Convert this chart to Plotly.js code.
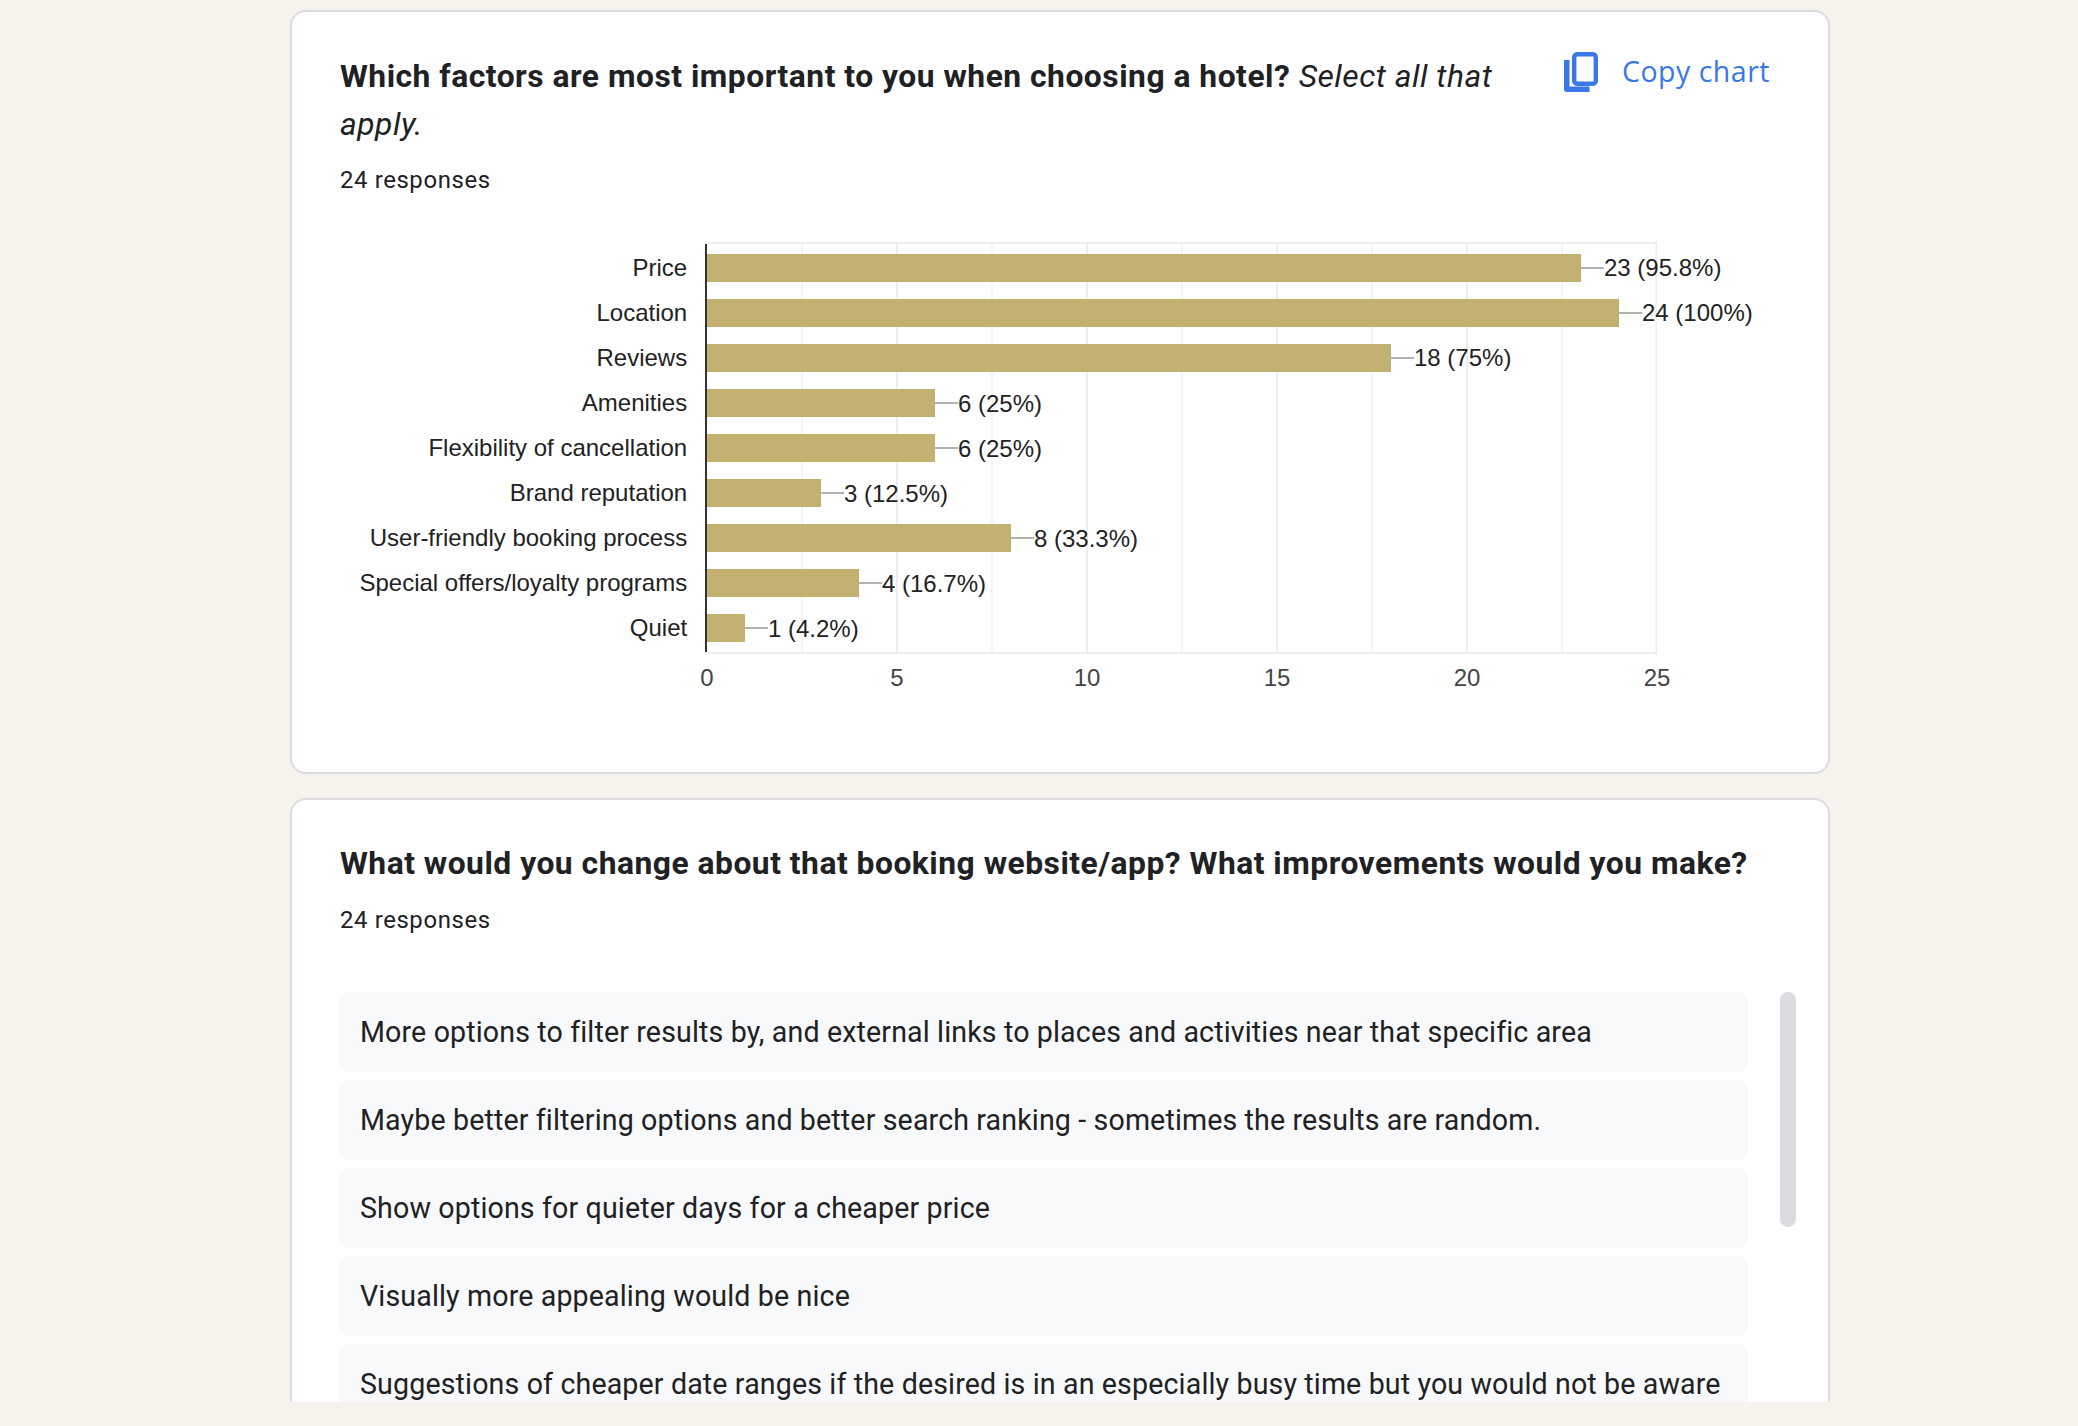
<!DOCTYPE html>
<html><head><meta charset="utf-8">
<script src="https://cdn.plot.ly/plotly-3.0.1.min.js"></script>
<style>
html,body{margin:0;padding:0;background:#f5f3ec;width:2078px;height:1426px;overflow:hidden;font-family:Roboto,sans-serif;color:#202124}
.card{position:absolute;left:290px;width:1536px;background:#fff;border:2px solid #dadce0;border-radius:16px;box-sizing:content-box}
.t{position:absolute;white-space:nowrap;line-height:48px;height:48px}
.q{font-size:31.8px;font-weight:700;left:340px;letter-spacing:.5px}
.r{font-size:23.9px;left:340px;letter-spacing:.62px}
.item{position:absolute;left:339px;width:1409px;height:80px;background:#f8f9fa;border-radius:10px}
.item span{position:absolute;left:21px;top:16px;font-size:28.6px;line-height:48px;white-space:nowrap;letter-spacing:.135px}
#clip{position:absolute;left:0;top:0;width:2078px;height:1402px;overflow:hidden}
#chart{position:absolute;left:291px;top:12px;width:1538px;height:760px}
</style></head><body>
<div id="clip">
<div class="card" style="top:10px;height:760px"></div>
<div class="card" style="top:798px;height:800px"></div>
<div class="t q" style="top:52px">Which factors are most important to you when choosing a hotel? <i style="font-weight:400">Select all that</i></div>
<div class="t q" style="top:100px"><i style="font-weight:400">apply.</i></div>
<div class="t r" style="top:156px">24 responses</div>
<svg style="position:absolute;left:1564px;top:52px" width="34" height="40" viewBox="0 0 34 40">
<path d="M0 8h5.5v26.5h20V40H3a3 3 0 0 1-3-3z" fill="#3b78e7"/>
<rect x="10.2" y="2.2" width="21.6" height="29.6" rx="3" fill="none" stroke="#3b78e7" stroke-width="4.4"/></svg>
<div class="t" id="copy" style="left:1622px;top:47px;font-family:'Open Sans',sans-serif;font-size:28.5px;font-weight:500;letter-spacing:.5px;color:#3b78e7">Copy chart</div>
<div id="chart"></div>
<div class="t q" style="top:839px">What would you change about that booking website/app? What improvements would you make?</div>
<div class="t r" style="top:896px">24 responses</div>
<div id="items"></div>
<div style="position:absolute;left:1780px;top:992px;width:16px;height:235px;border-radius:8px;background:#dadce0"></div>
</div>
<script>
const categories=["Price","Location","Reviews","Amenities","Flexibility of cancellation","Brand reputation","User-friendly booking process","Special offers/loyalty programs","Quiet"];
const counts=[23,24,18,6,6,3,8,4,1];
const valueLabels=["23 (95.8%)","24 (100%)","18 (75%)","6 (25%)","6 (25%)","3 (12.5%)","8 (33.3%)","4 (16.7%)","1 (4.2%)"];
const tickValues=[0,5,10,15,20,25];
const responses=["More options to filter results by, and external links to places and activities near that specific area","Maybe better filtering options and better search ranking - sometimes the results are random.","Show options for quieter days for a cheaper price","Visually more appealing would be nice","Suggestions of cheaper date ranges if the desired is in an especially busy time but you would not be aware"];

const box=document.getElementById('items');
responses.forEach((s,i)=>{const d=document.createElement('div');d.className='item';d.style.top=(992+88*i)+'px';const p=document.createElement('span');p.textContent=s;d.appendChild(p);box.appendChild(d);});

const labelFont={family:'"Liberation Sans",Arial,sans-serif',size:24,color:'#222222'};
Plotly.newPlot('chart',[{type:'bar',orientation:'h',x:counts,y:categories,width:0.622,marker:{color:'#c2b170',line:{width:0}},hoverinfo:'skip'}],{
 width:1538,height:760,margin:{l:416,r:172,t:232,b:120,pad:0},
 paper_bgcolor:'rgba(0,0,0,0)',plot_bgcolor:'rgba(0,0,0,0)',showlegend:false,
 xaxis:{range:[0,25],tickmode:'array',tickvals:tickValues,ticktext:tickValues.map(String),showgrid:true,gridcolor:'#eeeeee',gridwidth:2,
   minor:{dtick:2.5,tick0:0,showgrid:true,gridcolor:'#f5f5f5',gridwidth:2,ticks:''},
   zeroline:false,showline:true,mirror:true,linecolor:'#eeeeee',linewidth:2,ticks:'outside',ticklen:3,tickcolor:'rgba(0,0,0,0)',
   tickfont:{family:labelFont.family,size:24,color:'#444444'}},
 yaxis:{type:'category',range:[8.533,-0.533],showgrid:false,zeroline:false,showline:true,linecolor:'#333333',linewidth:2,ticks:'outside',ticklen:13,tickcolor:'rgba(0,0,0,0)',tickfont:labelFont},
 shapes:[{type:'line',layer:'below',xref:'x',yref:'paper',x0:25,x1:25,y0:0,y1:1,line:{color:'#eeeeee',width:3}}],
 annotations:categories.map((c,i)=>({xref:'x',yref:'y',x:counts[i],y:c,axref:'pixel',ayref:'pixel',ax:23,ay:0,text:valueLabels[i],xanchor:'left',yanchor:'middle',showarrow:true,arrowhead:0,arrowwidth:1.5,arrowcolor:'#999999',standoff:0,startstandoff:0,borderpad:0,borderwidth:0,font:labelFont}))
},{displayModeBar:false,staticPlot:true});
</script>
</body></html>
